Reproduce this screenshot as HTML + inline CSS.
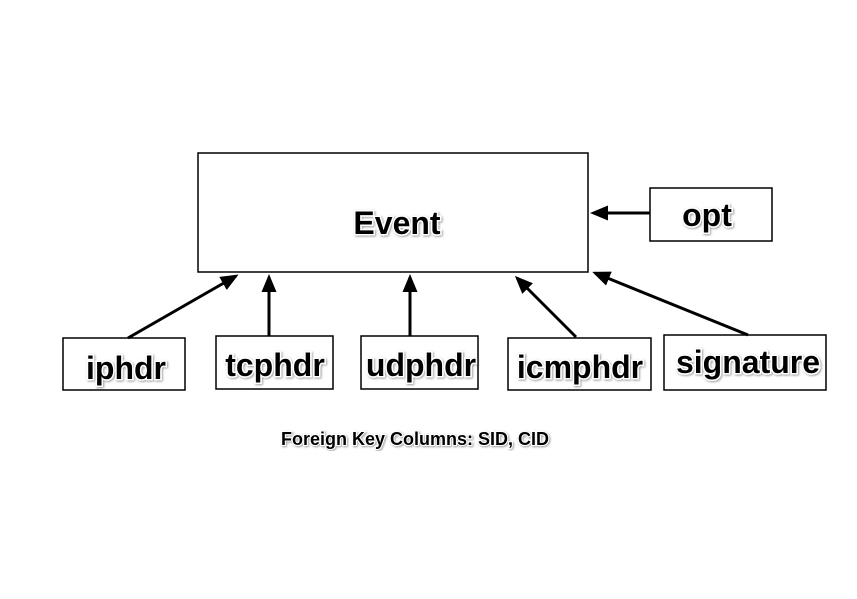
<!DOCTYPE html>
<html><head><style>
html,body{margin:0;padding:0;background:#fff;}
svg text{font-family:"Liberation Sans",Arial,sans-serif;font-weight:bold;fill:#000;stroke:#fff;stroke-width:3px;paint-order:stroke;}
</style></head><body>
<svg width="857" height="594" viewBox="0 0 857 594" xmlns="http://www.w3.org/2000/svg">
<defs>
<marker id="a" markerWidth="6" markerHeight="5" refX="5" refY="2.5" orient="auto" markerUnits="strokeWidth">
<path d="M0,0 L6,2.5 L0,5 Z" fill="#000"/>
</marker>
<filter id="s"><feDropShadow dx="1" dy="1" stdDeviation="1" flood-color="#000" flood-opacity="0.4"/></filter>
</defs>
<g fill="#fff" stroke="#000" stroke-width="1.5">
<rect x="198" y="153" width="390" height="119"/>
<rect x="650" y="188" width="122" height="53"/>
<rect x="63" y="338" width="122" height="52"/>
<rect x="216" y="336" width="117" height="53"/>
<rect x="361" y="336" width="117" height="53"/>
<rect x="508" y="338" width="143" height="52"/>
<rect x="664" y="335" width="162" height="55"/>
</g>
<g stroke="#000" stroke-width="3" fill="none" marker-end="url(#a)">
<line x1="128" y1="338" x2="236" y2="276"/>
<line x1="269" y1="336" x2="269" y2="277"/>
<line x1="410" y1="336" x2="410" y2="277"/>
<line x1="576" y1="337" x2="517" y2="278"/>
<line x1="748" y1="335" x2="595" y2="273"/>
<line x1="650" y1="213" x2="593" y2="213"/>
</g>
<g font-size="32" text-anchor="middle" filter="url(#s)">
<text x="397" y="234">Event</text>
<text x="707" y="226">opt</text>
<text x="126" y="379">iphdr</text>
<text x="275" y="376">tcphdr</text>
<text x="421" y="376">udphdr</text>
<text x="580" y="378">icmphdr</text>
<text x="748" y="373">signature</text>
</g>
<text x="415" y="445" font-size="18" text-anchor="middle" filter="url(#s)" style="stroke-width:2px">Foreign Key Columns: SID, CID</text>
</svg>
</body></html>
